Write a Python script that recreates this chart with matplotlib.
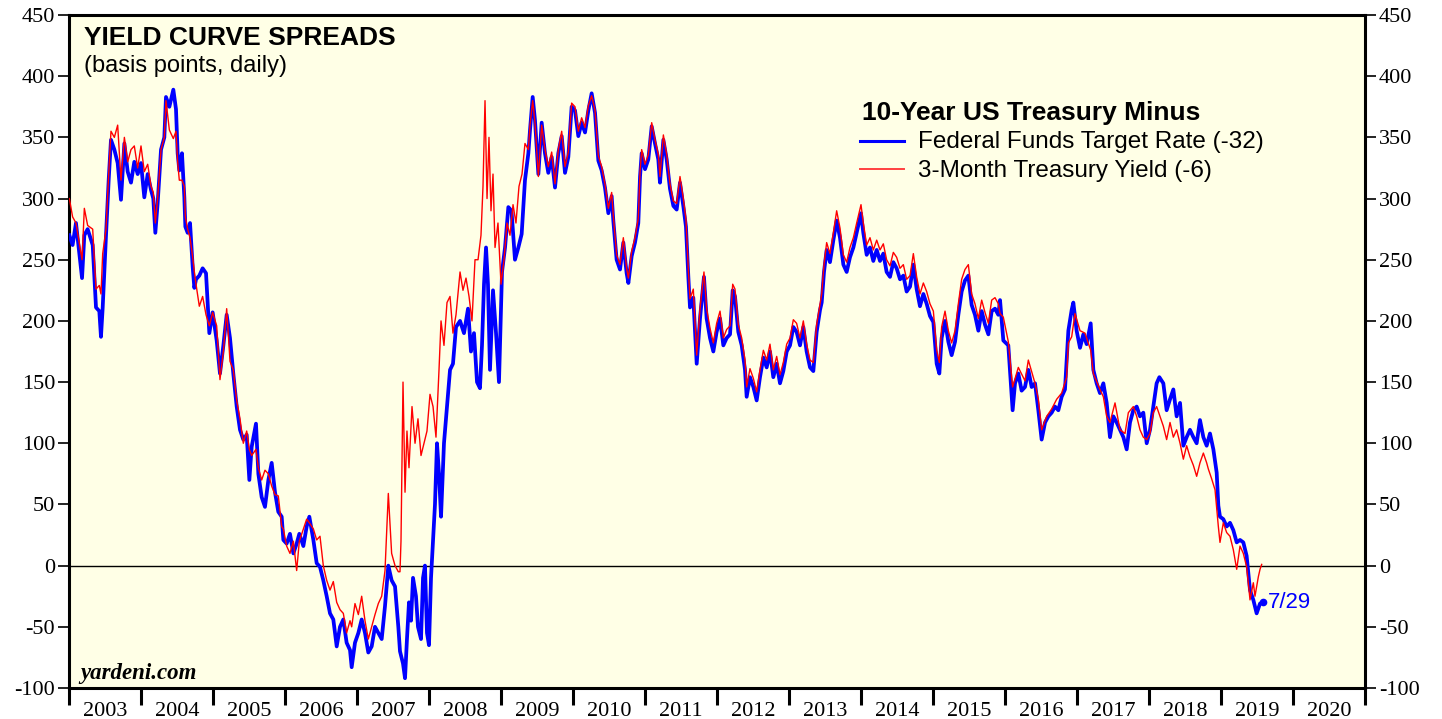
import matplotlib
matplotlib.use("Agg")
import matplotlib.pyplot as plt
import numpy as np

# ---------------- data (decimal years, basis points) ----------------
ff_dates = [
 2003.005,2003.05,2003.097,2003.181,2003.213,2003.259,2003.329,2003.375,2003.421,2003.444,2003.468,2003.514,
 2003.551,2003.583,2003.630,2003.676,2003.722,2003.769,2003.815,2003.861,2003.907,2003.954,2004.000,2004.046,
 2004.093,2004.139,2004.171,2004.199,2004.231,2004.278,2004.324,2004.347,2004.394,2004.449,2004.486,2004.509,
 2004.532,2004.569,2004.602,2004.616,2004.648,2004.681,2004.718,2004.741,2004.764,2004.810,2004.856,2004.903,
 2004.949,2004.995,2005.051,2005.097,2005.144,2005.190,2005.236,2005.282,2005.329,2005.375,2005.421,2005.468,
 2005.505,2005.537,2005.597,2005.630,2005.676,2005.722,2005.769,2005.815,2005.861,2005.907,2005.954,2005.977,
 2006.023,2006.069,2006.116,2006.162,2006.199,2006.255,2006.301,2006.338,2006.394,2006.440,2006.486,2006.532,
 2006.579,2006.625,2006.671,2006.718,2006.764,2006.810,2006.856,2006.903,2006.926,2006.972,2007.019,2007.065,
 2007.111,2007.157,2007.204,2007.250,2007.296,2007.343,2007.389,2007.435,2007.481,2007.528,2007.574,2007.597,
 2007.639,2007.667,2007.694,2007.722,2007.750,2007.778,2007.819,2007.847,2007.889,2007.917,2007.944,2007.972,
 2008.000,2008.028,2008.056,2008.083,2008.111,2008.139,2008.167,2008.208,2008.250,2008.292,2008.333,2008.375,
 2008.431,2008.486,2008.542,2008.583,2008.625,2008.667,2008.708,2008.736,2008.764,2008.792,2008.819,2008.847,
 2008.889,2008.931,2008.972,2009.014,2009.056,2009.102,2009.146,2009.194,2009.241,2009.287,2009.333,2009.380,
 2009.403,2009.440,2009.472,2009.519,2009.565,2009.611,2009.657,2009.704,2009.750,2009.796,2009.843,2009.889,
 2009.935,2009.981,2010.028,2010.074,2010.120,2010.167,2010.213,2010.259,2010.306,2010.352,2010.398,2010.444,
 2010.491,2010.537,2010.560,2010.606,2010.653,2010.699,2010.745,2010.769,2010.815,2010.861,2010.907,2010.931,
 2010.954,2011.000,2011.046,2011.093,2011.139,2011.185,2011.208,2011.255,2011.301,2011.347,2011.394,2011.440,
 2011.486,2011.532,2011.569,2011.602,2011.625,2011.671,2011.718,2011.764,2011.819,2011.856,2011.903,2011.949,
 2011.995,2012.042,2012.088,2012.134,2012.181,2012.218,2012.250,2012.296,2012.343,2012.389,2012.412,2012.458,
 2012.505,2012.551,2012.597,2012.644,2012.690,2012.736,2012.782,2012.829,2012.875,2012.921,2012.968,2013.014,
 2013.060,2013.106,2013.153,2013.199,2013.245,2013.292,2013.338,2013.384,2013.431,2013.454,2013.486,2013.523,
 2013.569,2013.616,2013.662,2013.708,2013.755,2013.801,2013.847,2013.894,2013.940,2014.000,2014.032,2014.079,
 2014.125,2014.171,2014.218,2014.264,2014.310,2014.356,2014.403,2014.449,2014.495,2014.542,2014.588,2014.634,
 2014.681,2014.727,2014.773,2014.819,2014.866,2014.912,2014.958,2015.005,2015.051,2015.088,2015.120,2015.167,
 2015.213,2015.259,2015.306,2015.352,2015.398,2015.444,2015.491,2015.537,2015.583,2015.630,2015.676,2015.722,
 2015.769,2015.815,2015.861,2015.907,2015.931,2015.977,2016.046,2016.106,2016.139,2016.185,2016.231,2016.278,
 2016.324,2016.370,2016.417,2016.463,2016.509,2016.556,2016.602,2016.648,2016.694,2016.741,2016.787,2016.833,
 2016.880,2016.926,2016.949,2016.995,2017.042,2017.088,2017.134,2017.190,2017.227,2017.273,2017.319,2017.366,
 2017.412,2017.458,2017.505,2017.551,2017.597,2017.644,2017.690,2017.736,2017.782,2017.829,2017.875,2017.921,
 2017.968,2018.014,2018.060,2018.106,2018.144,2018.199,2018.245,2018.292,2018.338,2018.384,2018.431,2018.477,
 2018.523,2018.569,2018.616,2018.662,2018.708,2018.755,2018.801,2018.847,2018.894,2018.940,2018.963,2018.986,
 2019.032,2019.079,2019.125,2019.171,2019.218,2019.264,2019.310,2019.356,2019.403,2019.449,2019.495,2019.542,
 2019.579]
ff_spread = [
 270,262,280,235,270,275,262,211,208,187,211,270,
 315,348,340,329,299,345,322,313,330,320,329,301,
 320,307,300,272,296,340,350,383,375,389,373,337,
 323,337,301,277,272,280,244,227,234,237,243,239,
 190,207,184,157,180,205,186,157,130,111,103,107,
 70,97,116,75,56,48,70,84,60,44,40,21,
 18,26,10,18,26,16,32,40,21,2,-1,-12,
 -25,-39,-44,-66,-50,-44,-63,-69,-83,-63,-55,-44,
 -55,-71,-66,-50,-55,-60,-33,0,-12,-17,-50,-70,
 -80,-92,-60,-30,-45,-10,-25,-50,-60,-10,0,-55,
 -65,-10,20,50,100,75,40,100,130,160,165,195,
 200,190,210,175,190,150,145,180,230,260,230,160,
 225,190,150,240,260,293,290,250,260,271,315,337,
 356,383,364,320,362,337,321,334,309,337,351,321,
 334,375,372,351,362,354,372,386,370,331,323,309,
 288,302,282,250,242,264,239,231,253,264,280,318,
 337,324,332,359,345,332,313,348,332,308,294,291,
 313,294,277,236,211,219,165,202,236,202,186,175,
 191,202,180,186,189,225,220,191,180,160,138,154,
 146,135,154,170,162,175,154,165,149,159,175,180,
 195,191,180,195,175,162,159,191,209,215,240,258,
 248,266,282,268,246,240,252,260,272,288,272,254,
 260,249,258,249,255,240,236,248,243,234,237,224,
 228,246,226,212,222,214,204,199,165,157,186,200,
 183,172,183,205,224,233,237,213,205,192,208,197,
 189,208,210,205,217,184,180,127,149,157,143,146,
 160,146,149,127,103,117,122,125,130,127,138,144,
 192,209,215,192,178,189,181,198,160,149,141,149,
 133,105,122,117,111,105,95,117,127,130,122,125,
 100,111,130,149,154,149,127,136,144,122,133,98,
 105,111,105,100,119,105,98,108,95,76,49,40,
 38,32,35,29,19,21,19,8,-20,-28,-39,-31,
 -30]

tb_dates = [
 2003.005,2003.05,2003.097,2003.181,2003.213,2003.259,2003.329,2003.375,2003.421,2003.444,2003.468,2003.514,
 2003.551,2003.583,2003.630,2003.676,2003.722,2003.769,2003.815,2003.861,2003.907,2003.954,2004.000,2004.046,
 2004.093,2004.139,2004.171,2004.199,2004.231,2004.278,2004.324,2004.347,2004.394,2004.449,2004.486,2004.509,
 2004.532,2004.569,2004.602,2004.616,2004.648,2004.681,2004.718,2004.741,2004.764,2004.810,2004.856,2004.903,
 2004.949,2004.995,2005.051,2005.097,2005.144,2005.190,2005.236,2005.282,2005.329,2005.375,2005.421,2005.468,
 2005.505,2005.537,2005.597,2005.630,2005.676,2005.722,2005.769,2005.815,2005.861,2005.907,2005.954,2005.977,
 2006.023,2006.069,2006.116,2006.162,2006.199,2006.255,2006.301,2006.338,2006.394,2006.440,2006.486,2006.532,
 2006.579,2006.625,2006.671,2006.718,2006.764,2006.810,2006.856,2006.903,2006.926,2006.972,2007.019,2007.065,
 2007.111,2007.157,2007.204,2007.250,2007.296,2007.343,2007.389,2007.435,2007.481,2007.528,2007.574,2007.597,
 2007.611,2007.639,2007.667,2007.694,2007.722,2007.764,2007.806,2007.847,2007.889,2007.931,2007.972,2008.014,
 2008.056,2008.097,2008.139,2008.167,2008.208,2008.250,2008.292,2008.333,2008.375,2008.431,2008.472,2008.514,
 2008.556,2008.597,2008.639,2008.681,2008.722,2008.750,2008.778,2008.806,2008.833,2008.861,2008.889,2008.917,
 2008.958,2009.000,2009.042,2009.083,2009.125,2009.167,2009.208,2009.250,2009.292,2009.333,2009.380,2009.403,
 2009.440,2009.472,2009.519,2009.565,2009.611,2009.657,2009.704,2009.750,2009.796,2009.843,2009.889,2009.935,
 2009.981,2010.028,2010.074,2010.120,2010.167,2010.213,2010.259,2010.306,2010.352,2010.398,2010.444,2010.491,
 2010.537,2010.560,2010.606,2010.653,2010.699,2010.745,2010.769,2010.815,2010.861,2010.907,2010.931,2010.954,
 2011.000,2011.046,2011.093,2011.139,2011.185,2011.208,2011.255,2011.301,2011.347,2011.394,2011.440,2011.486,
 2011.532,2011.569,2011.602,2011.625,2011.671,2011.718,2011.764,2011.819,2011.856,2011.903,2011.949,2011.995,
 2012.042,2012.088,2012.134,2012.181,2012.218,2012.250,2012.296,2012.343,2012.389,2012.412,2012.458,2012.505,
 2012.551,2012.597,2012.644,2012.690,2012.736,2012.782,2012.829,2012.875,2012.921,2012.968,2013.014,2013.060,
 2013.106,2013.153,2013.199,2013.245,2013.292,2013.338,2013.384,2013.431,2013.454,2013.486,2013.523,2013.569,
 2013.616,2013.662,2013.708,2013.755,2013.801,2013.847,2013.894,2013.940,2014.000,2014.032,2014.079,2014.125,
 2014.171,2014.218,2014.264,2014.310,2014.356,2014.403,2014.449,2014.495,2014.542,2014.588,2014.634,2014.681,
 2014.727,2014.773,2014.819,2014.866,2014.912,2014.958,2015.005,2015.051,2015.088,2015.120,2015.167,2015.213,
 2015.259,2015.306,2015.352,2015.398,2015.444,2015.491,2015.537,2015.583,2015.630,2015.676,2015.722,2015.769,
 2015.815,2015.861,2015.907,2015.931,2015.977,2016.046,2016.106,2016.185,2016.278,2016.324,2016.417,2016.463,
 2016.509,2016.579,2016.648,2016.718,2016.787,2016.856,2016.880,2016.926,2016.972,2017.042,2017.111,2017.190,
 2017.227,2017.319,2017.366,2017.412,2017.458,2017.528,2017.597,2017.667,2017.713,2017.782,2017.829,2017.875,
 2017.921,2017.968,2018.014,2018.060,2018.106,2018.153,2018.199,2018.245,2018.292,2018.338,2018.384,2018.431,
 2018.477,2018.523,2018.569,2018.616,2018.662,2018.708,2018.755,2018.801,2018.824,2018.870,2018.917,2018.963,
 2018.986,2019.032,2019.079,2019.125,2019.171,2019.218,2019.264,2019.310,2019.356,2019.403,2019.449,2019.472,
 2019.519,2019.542,2019.565]
tb_spread = [
 300,285,280,250,292,278,275,226,229,222,255,275,
 320,355,350,360,315,350,330,340,343,325,343,322,
 328,310,305,280,300,340,350,380,356,349,355,330,
 315,315,310,285,275,268,252,240,230,212,220,205,
 196,207,196,152,175,210,167,160,135,120,100,110,
 95,90,95,80,70,78,75,65,58,57,32,30,
 16,10,20,-4,20,30,38,35,30,21,24,0,
 -12,-20,-13,-30,-36,-39,-55,-45,-50,-31,-40,-25,
 -45,-60,-50,-40,-31,-25,-4,59,10,0,-5,-5,
 20,150,60,110,80,130,100,120,90,100,110,140,
 130,105,160,200,180,215,220,190,205,240,225,235,
 220,200,250,250,270,310,380,300,350,290,320,260,
 280,230,250,280,270,295,280,310,320,345,340,360,
 380,362,318,360,340,326,338,312,340,355,326,338,
 378,375,355,366,358,376,384,372,335,326,312,292,
 305,286,254,246,268,243,235,257,268,284,322,340,
 328,336,362,348,336,318,352,336,312,298,296,318,
 300,283,242,218,226,172,210,240,210,194,182,198,
 208,186,193,196,230,226,197,186,168,146,161,153,
 142,160,176,168,181,160,171,156,166,181,186,201,
 198,186,200,181,168,166,197,214,222,246,264,255,
 272,290,276,254,248,260,268,280,295,280,262,268,
 258,266,258,263,250,245,256,252,243,246,234,237,
 255,236,222,231,224,214,208,176,166,195,208,192,
 182,192,214,234,242,246,222,214,202,217,207,198,
 217,219,214,206,203,183,146,162,151,168,149,136,
 111,122,128,136,141,154,182,187,206,192,190,176,
 157,144,138,122,117,133,111,108,125,130,122,111,
 105,103,108,125,130,122,114,103,117,105,111,100,
 87,98,89,82,73,84,92,84,79,71,62,32,
 19,35,27,24,13,-3,16,10,-1,-28,-14,-25,
 -9,-3,1]

years = list(range(2003, 2021))
yticks = list(range(-100, 451, 50))

# ---------------- figure ----------------
W, H = 1442, 719
fig = plt.figure(figsize=(W / 100, H / 100), dpi=100)
fig.patch.set_facecolor("white")
ax = fig.add_axes([69 / W, 1 - 688 / H, (1365 - 69) / W, (688 - 15) / H])
ax.set_facecolor("#FFFFE6")

ax.plot(ff_dates, ff_spread, color="#0000FF", lw=2.7, solid_joinstyle="round", zorder=3)
ax.plot(tb_dates, tb_spread, color="#FF0000", lw=1.0, zorder=4)
ax.plot([ff_dates[-1]], [ff_spread[-1]], marker="o", ms=4.5, color="#0000FF", zorder=5)
ax.axhline(0, color="black", lw=1.0, zorder=2)

ax.set_xlim(2003, 2021)
ax.set_ylim(-100, 450)

for s in ax.spines.values():
    s.set_linewidth(2.2)
    s.set_color("black")

serif = "Liberation Serif"
sans = "Liberation Sans"

ax.set_yticks(yticks)
ax.set_yticklabels([str(v) for v in yticks], fontfamily=serif, fontsize=16)
ax.tick_params(axis="y", which="major", direction="out", length=8, width=1.2,
               left=True, right=True, labelleft=True, labelright=True, pad=2)

ax.set_xticks(list(range(2003, 2022)))
ax.set_xticklabels([])
ax.tick_params(axis="x", which="major", direction="out", length=12, width=2.2)
ax.set_xticks([y + 0.5 for y in years], minor=True)
ax.set_xticklabels([str(y) for y in years], minor=True, fontfamily=serif, fontsize=16)
ax.tick_params(axis="x", which="minor", length=0, pad=10)

# titles
fig.text(84 / W, 1 - 45 / H, "YIELD CURVE SPREADS", fontfamily=sans, fontweight="bold",
         fontsize=19, va="baseline", ha="left")
fig.text(84 / W, 1 - 72 / H, "(basis points, daily)", fontfamily=sans,
         fontsize=17, va="baseline", ha="left")

# legend
fig.text(862 / W, 1 - 120 / H, "10-Year US Treasury Minus", fontfamily=sans, fontweight="bold",
         fontsize=19, va="baseline", ha="left")
fig.add_artist(plt.Line2D([860 / W, 904 / W], [1 - 140.7 / H, 1 - 140.7 / H], color="#0000FF",
                          lw=2.2, transform=fig.transFigure))
fig.add_artist(plt.Line2D([860 / W, 904 / W], [1 - 169.3 / H, 1 - 169.3 / H], color="#FF4040",
                          lw=1.4, transform=fig.transFigure))
fig.text(918 / W, 1 - 148 / H, "Federal Funds Target Rate (-32)", fontfamily=sans,
         fontsize=17.5, va="baseline", ha="left")
fig.text(918 / W, 1 - 176.5 / H, "3-Month Treasury Yield (-6)", fontfamily=sans,
         fontsize=17.5, va="baseline", ha="left")

# end label
ax.annotate("7/29", xy=(ff_dates[-1], ff_spread[-1]), xytext=(4, 0), textcoords="offset points",
            color="#0000FF", fontfamily=sans, fontsize=16, va="center", ha="left")

fig.text(80 / W, 1 - 673 / H, "yardeni.com", fontfamily=serif, fontweight="bold",
         fontstyle="italic", fontsize=16.5, va="center", ha="left")

fig.savefig("out.png", dpi=100)
